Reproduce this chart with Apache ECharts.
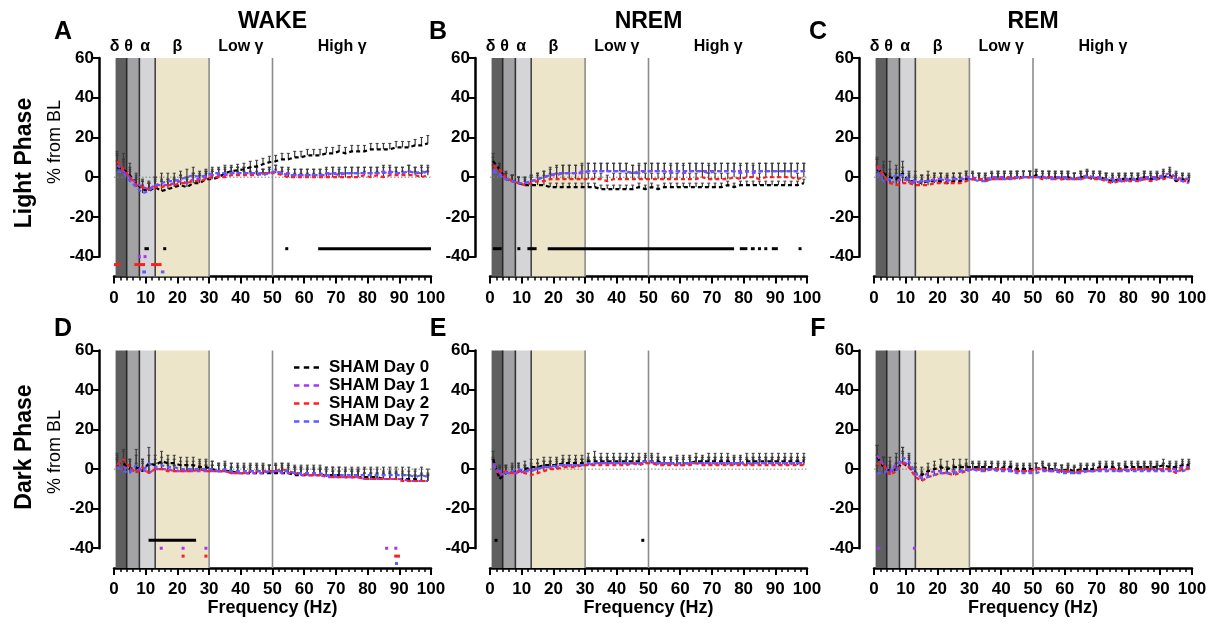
<!DOCTYPE html>
<html><head><meta charset="utf-8">
<script src="https://cdn.jsdelivr.net/npm/echarts@6/dist/echarts.min.js"></script>
<style>html,body{margin:0;padding:0;background:#fff}#c{width:1215px;height:626px}</style>
</head><body><div id="c"></div>
<script>
// ---------- categories / labels ----------
const freqs = [1,3,5,7,9,11,13,15,17,19,21,23,25,27,29,31,33,35,37,39,41,43,45,47,49,51,53,55,57,59,61,63,65,67,69,71,73,75,77,79,81,83,85,87,89,91,93,95,97,99];
const seriesNames = ['SHAM Day 0','SHAM Day 1','SHAM Day 2','SHAM Day 7'];
const stateTitles = ['WAKE','NREM','REM'];
const phaseLabels = ['Light Phase','Dark Phase'];
const yAxisTitle = '% from BL';
const xAxisTitle = 'Frequency (Hz)';
const panelLetters = ['A','B','C','D','E','F'];
const bandLabels = [['δ',0.2],['θ',4.6],['α',9.8],['β',20],['Low γ',40],['High γ',72]];
const bandRanges = [[0.5,4],[4,8],[8,13],[13,30]];
const bandDividers = [4,8,13,30,50];
const sigRows = [-36,-40,-44,-47.7];

// ---------- A: WAKE light ----------
const aDay0 = [5,4,1,-3,-6,-7,-5,-7,-6,-5,-4,-5,-3,-3,-1,-1,0,2,3,3.5,4,5,5.5,6.5,7.5,8,9,9,10,10,11,11,11,12,12,13,12,13,13,13,14,14,14,14,15,15,15,16,16,17];
const aDay1 = [6,3,0,-3,-5,-6,-4,-4,-4,-3,-2,-3,-1,-1,0,1,1,1,2,2,2,2,2,2,2,3,2,2,1,1,1,1,1,1,2,1,2,2,2,2,2,2,2,3,2,2,3,2,2,3];
const aDay2 = [8,4,0,-4,-5,-6,-5,-5,-4,-4,-3,-3,-2,-2,-1,0,0,0,1,1,1,1,1,2,2,2,1,0,0,0,0,0,0,0,0,0,0,0,0,1,0,1,0,1,1,1,1,1,0,1];
const aDay7 = [3,2,-2,-5,-8,-7,-4,-3,-2,-2,-1,0,1,0,1,2,2,2,2,2,2,2,2,1,2,3,2,1,1,1,1,1,1,2,2,2,2,2,2,2,2,2,3,2,2,2,3,2,3,2];
const aErr0 = [7,8,6,5,4,4,4,5,4,4,5,4,5,4,4,4,4,4,3,3,3,3,3,3,3,3,3,3,3,3,3,3,3,3,3,3,3,3,3,3,3,3,3,3,3,3,3,3,4,4];
const aErr1 = [5,6,5,4,4,4,4,3,3,3,3,3,3,3,3,3,3,3,3,3,3,3,3,2,3,3,3,3,3,3,3,3,3,3,3,3,3,3,3,3,3,3,3,3,3,3,3,3,3,3];
const aErr2 = [5,5,4,4,3,3,3,3,3,3,3,3,3,3,3,3,2,2,2,2,2,2,2,2,2,2,2,2,2,2,2,2,2,2,2,2,2,2,2,2,2,2,2,2,2,2,2,2,2,2];
const aErr7 = [5,6,5,4,4,4,4,5,4,4,4,4,4,3,3,3,3,3,3,3,3,3,3,3,3,3,3,3,3,3,3,3,3,3,3,3,3,3,3,3,3,3,3,3,3,3,3,3,3,3];
const aSig0 = [[9.6,11],[16,16],[54.5,54.5],[64.4,100]];
const aSig1 = [[8,8],[9.8,9.8]];
const aSig2 = [[0,2],[6.4,9.8],[11.7,15]];
const aSig7 = [[8.9,10.1],[14.8,15.9]];

// ---------- B: NREM light ----------
const bDay0 = [8,4,-1,-2,-3,-4,-4,-4,-4,-5,-5,-5,-5,-5,-5,-5,-5,-6,-6,-6,-6,-6,-6,-5,-6,-5,-6,-5,-5,-5,-5,-5,-5,-5,-5,-5,-5,-4,-5,-4,-4,-4,-4,-4,-4,-4,-4,-4,-4,-3];
const bDay1 = [4,2,-1,-2,-3,-3,-2,-1,0,1,1,2,2,2,2,3,3,3,3,3,3,3,2,3,3,3,3,3,3,3,2,3,3,3,3,3,3,3,3,3,3,2,3,3,3,3,3,3,3,3];
const bDay2 = [6,4,0,-2,-3,-4,-3,-2,-2,-1,-1,-1,-1,-1,-1,-1,-1,-1,-2,-1,-1,-1,-1,-1,-1,-1,-1,-1,-1,-1,-1,-1,-1,0,-1,-1,-1,-1,0,-1,0,0,-1,0,0,0,0,0,-1,0];
const bDay7 = [3,1,-1,-2,-3,-3,-2,-1,0,1,2,2,2,2,3,3,3,3,3,3,3,3,2,2,3,3,3,3,2,3,3,3,3,3,2,3,3,3,3,2,3,3,3,3,3,3,3,3,3,3];
const bErr0 = [4,3,3,3,3,2,2,2,2,2,2,2,2,2,2,2,2,2,2,2,2,2,2,2,2,2,2,2,2,2,2,2,2,2,2,2,2,2,2,2,2,2,2,2,2,2,2,2,2,2];
const bErr1 = [4,4,3,3,3,3,3,3,3,3,4,4,4,4,4,4,4,4,4,4,4,4,4,4,4,4,4,4,4,4,4,4,4,4,4,4,4,4,4,4,4,4,4,4,4,4,4,4,4,4];
const bErr2 = [4,3,3,3,3,3,3,3,3,3,3,3,3,3,3,3,3,3,3,3,3,3,3,3,3,3,3,3,3,3,3,3,3,3,3,3,3,3,3,3,3,3,3,3,3,3,3,3,3,3];
const bErr7 = [3,3,3,3,3,3,3,3,3,4,4,4,4,4,4,4,4,4,4,4,4,4,4,4,4,4,4,4,4,4,4,4,4,4,4,4,4,4,4,4,4,4,4,4,4,4,4,4,4,4];
const bSig0 = [[0.9,3.7],[9.1,9.1],[11.8,14.7],[18.2,77],[78.8,81.2],[82.3,83.5],[85,85],[87,87],[88.9,90.8],[97.8,97.8]];
const bSig1 = [], bSig2 = [], bSig7 = [];

// ---------- C: REM light ----------
const cDay0 = [4,2,0,-1,2,-2,-2,-3,-2,-2,-2,-3,-2,-2,-1,-1,-1,-1,-1,0,0,-1,0,0,0,1,0,0,0,-1,0,-1,0,0,-1,0,-1,-2,-1,-1,-1,-1,0,-1,-1,0,1,-2,-1,-2];
const cDay1 = [5,1,-3,-2,-1,-2,-3,-2,-2,-1,-1,-1,-1,-1,0,0,-1,-1,0,0,0,0,0,0,0,0,0,0,0,0,0,-1,0,1,0,0,-1,-1,-1,-1,-1,-1,0,0,0,1,2,0,-1,-1];
const cDay2 = [6,1,-3,-4,-3,-3,-4,-4,-4,-3,-3,-3,-3,-3,-2,-1,-1,-2,-1,-1,-1,0,-1,0,0,0,-1,0,-1,-1,-1,-1,-1,0,-1,-1,-2,-3,-2,-2,-2,-2,-1,-2,-1,-1,0,-1,-2,-2];
const cDay7 = [2,-2,-1,1,1,-1,-2,-2,-2,-2,-1,-2,-1,-1,-1,-1,-2,-2,-1,-1,-1,-1,0,0,0,0,0,-1,-1,0,-1,-1,-1,0,0,-1,-1,-2,-2,-2,-1,-2,-1,-1,-1,0,0,-1,-2,-3];
const cErr0 = [5,6,8,5,6,4,5,4,5,4,4,4,4,4,4,3,3,3,3,3,3,3,3,3,3,3,3,3,3,3,3,3,3,3,3,3,3,3,3,3,3,3,3,3,3,3,3,3,3,3];
const cErr1 = [4,5,5,4,4,3,3,3,3,3,3,3,3,3,3,3,3,3,3,3,3,3,3,3,3,3,3,3,3,3,3,3,3,3,3,3,3,3,3,3,3,3,3,3,3,3,3,3,3,3];
const cErr2 = [4,4,4,4,3,3,3,3,3,3,3,3,3,3,3,3,3,3,3,3,3,3,3,3,3,3,3,3,3,3,3,3,3,3,3,3,3,3,3,3,3,3,3,3,3,3,3,3,3,3];
const cErr7 = [4,4,5,5,4,4,3,3,3,3,3,3,3,3,3,3,3,3,3,3,3,3,3,3,3,3,3,3,3,3,3,3,3,3,3,3,3,3,3,3,3,3,3,3,3,3,3,3,3,3];
const cSig0 = [], cSig1 = [], cSig2 = [], cSig7 = [];

// ---------- D: WAKE dark ----------
const dDay0 = [2,3,0,1,-1,3,2,4,3,3,2,2,2,1,1,0,-1,-1,-1,-2,-2,-2,-2,-2,-2,-2,-2,-2,-3,-3,-3,-3,-3,-3,-3,-3,-4,-4,-4,-4,-4,-4,-5,-5,-5,-5,-5,-5,-6,-6];
const dDay1 = [3,1,0,-1,0,-2,0,0,0,-1,-1,-1,-1,-1,-1,-1,-1,-1,-2,-2,-2,-2,-2,-2,-1,-1,-2,-2,-2,-3,-3,-3,-3,-4,-4,-4,-4,-4,-4,-5,-5,-5,-5,-5,-5,-5,-6,-6,-6,-6];
const dDay2 = [2,5,1,-2,1,-2,0,0,-1,-1,-1,-1,-1,0,-1,-1,-1,-1,-2,-2,-2,-1,-1,-1,-1,-1,0,-1,-2,-2,-3,-3,-3,-3,-4,-4,-4,-4,-4,-5,-5,-5,-5,-5,-5,-6,-6,-6,-6,-6];
const dDay7 = [1,-1,-2,2,-1,3,1,2,1,1,0,0,0,0,0,0,-1,0,-1,-1,-1,-1,-1,-1,-2,-1,-1,-1,-2,-2,-2,-2,-2,-3,-3,-3,-3,-3,-3,-3,-3,-3,-3,-3,-3,-3,-3,-4,-3,-4];
const dErr0 = [6,7,5,9,6,8,5,5,4,4,4,4,4,4,4,4,4,4,4,4,4,4,4,4,4,4,4,4,4,4,4,4,4,4,4,4,4,4,4,4,4,4,4,4,4,4,4,4,4,4];
const dErr1 = [4,4,4,4,4,4,3,3,3,3,3,3,3,3,3,3,3,3,3,3,3,3,3,3,3,3,3,3,3,3,3,3,3,3,3,3,3,3,3,3,3,3,3,3,3,3,3,3,3,3];
const dErr2 = [4,4,4,4,4,4,3,3,3,3,3,3,3,3,3,3,3,3,3,3,3,3,3,3,3,3,3,3,3,3,3,3,3,3,3,3,3,3,3,3,3,3,3,3,3,3,3,3,3,3];
const dErr7 = [4,5,4,5,4,4,4,4,4,4,4,4,4,4,4,4,4,4,4,4,4,4,4,4,4,4,4,4,4,4,4,4,4,4,4,4,4,4,4,4,4,4,4,4,4,4,4,4,4,4];
const dSig0 = [[10.9,25.9]];
const dSig1 = [[14.9,14.9],[21.8,21.8],[29,29],[86,86],[88.9,88.9]];
const dSig2 = [[21.8,21.8],[29,29],[88.4,90.2]];
const dSig7 = [[89.1,89.1]];

// ---------- E: NREM dark ----------
const eDay0 = [5,-5,-2,-1,-1,0,1,1,2,2,2,3,3,3,3,4,4,4,4,4,4,4,4,4,4,4,4,3,3,3,3,3,4,4,4,4,4,4,3,3,4,4,4,4,4,4,4,4,4,4];
const eDay1 = [3,-3,-2,-2,-2,-1,0,0,1,1,1,2,2,2,2,2,3,3,3,3,3,3,3,3,3,3,3,3,3,2,2,3,3,3,3,3,3,3,3,3,2,3,3,3,3,3,3,3,3,3];
const eDay2 = [2,-2,-1,-2,-1,-2,-3,-2,-1,0,0,1,1,1,2,2,2,2,2,2,2,2,3,2,3,3,2,2,2,2,2,2,3,2,2,2,2,2,2,2,2,2,2,2,2,2,2,2,2,2];
const eDay7 = [2,-1,-2,-1,0,-1,-1,0,1,1,2,2,2,2,2,3,3,3,3,3,3,3,3,3,4,4,3,3,3,3,3,3,3,3,3,3,3,3,3,3,3,3,3,3,3,3,3,3,3,3];
const eErr0 = [4,5,4,4,4,4,4,4,4,4,4,4,4,4,4,4,5,4,4,4,4,4,4,4,4,4,4,3,3,4,4,4,4,3,4,4,4,4,4,4,4,4,4,4,4,4,4,4,4,4];
const eErr1 = [3,4,3,3,3,3,3,3,3,3,3,3,3,3,3,3,3,3,3,3,3,3,3,3,3,3,3,3,3,3,3,3,3,3,3,3,3,3,3,3,3,3,3,3,3,3,3,3,3,3];
const eErr2 = [3,3,3,3,3,3,3,3,3,3,3,3,3,3,3,3,3,3,3,3,3,3,3,3,3,3,3,3,3,3,3,3,3,3,3,3,3,3,3,3,3,3,3,3,3,3,3,3,3,3];
const eErr7 = [3,3,3,3,3,3,3,3,3,3,3,3,3,3,3,3,3,3,3,3,3,3,3,3,3,3,3,3,3,3,3,3,3,3,3,3,3,3,3,3,3,3,3,3,3,3,3,3,3,3];
const eSig0 = [[1.9,1.9],[48.2,48.2]];
const eSig1 = [], eSig2 = [], eSig7 = [];

// ---------- F: REM dark ----------
const fDay0 = [6,1,-1,0,3,1,-2,-3,-1,0,1,0,1,1,1,1,1,1,1,0,1,1,0,0,0,0,1,0,0,-1,0,-1,0,0,0,1,1,1,0,1,1,1,1,1,1,2,1,1,2,2];
const fDay1 = [7,2,-2,3,4,2,-3,-4,-2,-1,-1,-2,-1,-1,0,0,0,0,0,0,0,0,-1,-1,-1,0,0,-1,0,-1,-1,-2,-1,-1,-1,0,0,0,-1,0,0,0,0,0,0,0,0,0,1,1];
const fDay2 = [3,2,-3,-1,3,1,-4,-6,-4,-3,-2,-2,-3,-2,-1,0,0,-1,0,0,0,-1,-1,-1,-1,0,0,-1,-1,-1,-1,-2,-1,-1,-1,0,-1,0,0,-1,0,0,0,0,-1,0,0,-2,0,0];
const fDay7 = [-2,-2,0,-1,6,4,-2,-5,-4,-3,-2,-2,-2,-1,-1,0,-1,-1,0,-1,-1,-1,-2,-2,-2,-2,-1,-1,-1,-2,-2,-2,-2,-1,-1,-1,-1,-1,-1,-1,-1,-1,-1,-1,-1,-1,-1,-1,-1,0];
const fErr0 = [6,5,7,6,8,6,5,4,4,4,4,4,4,4,4,3,3,3,3,4,3,3,3,3,3,3,3,3,3,3,3,3,3,3,3,3,3,3,3,3,3,3,3,3,3,3,3,3,3,3];
const fErr1 = [5,4,4,5,5,4,4,3,3,3,3,3,3,3,3,3,3,3,3,3,3,3,3,3,3,3,3,3,3,3,3,3,3,3,3,3,3,3,3,3,3,3,3,3,3,3,3,3,3,3];
const fErr2 = [4,4,4,4,5,4,3,3,3,3,3,3,3,3,3,3,3,3,3,3,3,3,3,3,3,3,3,3,3,3,3,3,3,3,3,3,3,3,3,3,3,3,3,3,3,3,3,3,3,3];
const fErr7 = [4,4,4,4,5,4,3,3,3,3,3,3,3,3,3,3,3,3,3,3,3,3,3,3,3,3,3,3,3,3,3,3,3,3,3,3,3,3,3,3,3,3,3,3,3,3,3,3,3,3];
const fSig0 = [], fSig1 = [[1,2],[12.7,12.7]], fSig2 = [], fSig7 = [];

// ---------- assembly ----------
const panels = [
  {vals:[aDay0,aDay1,aDay2,aDay7], errs:[aErr0,aErr1,aErr2,aErr7], sig:[aSig0,aSig1,aSig2,aSig7]},
  {vals:[bDay0,bDay1,bDay2,bDay7], errs:[bErr0,bErr1,bErr2,bErr7], sig:[bSig0,bSig1,bSig2,bSig7]},
  {vals:[cDay0,cDay1,cDay2,cDay7], errs:[cErr0,cErr1,cErr2,cErr7], sig:[cSig0,cSig1,cSig2,cSig7]},
  {vals:[dDay0,dDay1,dDay2,dDay7], errs:[dErr0,dErr1,dErr2,dErr7], sig:[dSig0,dSig1,dSig2,dSig7]},
  {vals:[eDay0,eDay1,eDay2,eDay7], errs:[eErr0,eErr1,eErr2,eErr7], sig:[eSig0,eSig1,eSig2,eSig7]},
  {vals:[fDay0,fDay1,fDay2,fDay7], errs:[fErr0,fErr1,fErr2,fErr7], sig:[fSig0,fSig1,fSig2,fSig7]}
];

const FONT = '"Liberation Sans", Arial, sans-serif';
const colors = ['#000000','#a437ee','#ff1e1e','#5b5bff'];
const errColor = '#3a3a3a';
const bandColors = ['#5f5f5f','#a3a3a6','#d5d5d7','#ede5c9'];
const dividerColors = ['#2a2a2a','#333333','#454545','#8c8c8c','#8c8c8c'];
const colLeft = [114, 490, 874], colWidth = [317, 317, 318];
const rowTop = [58, 350.5], rowHeight = [218.5, 217.5];
const Y_MIN = -50, Y_MAX = 60;

const grid = [], xAxis = [], yAxis = [], series = [];
const labelStyle = {color:'#000', fontWeight:'bold', fontSize:17, fontFamily:FONT};

panels.forEach((pn, p) => {
  const r = Math.floor(p / 3), c = p % 3;
  const L = colLeft[c], T = rowTop[r], W = colWidth[c], H = rowHeight[r];
  const gi = 2 * p;
  grid.push({left:L, top:T, width:W, height:H});
  grid.push({left:L - 15, top:T, width:1, height:H * (Y_MAX - (-40)) / (Y_MAX - Y_MIN)});
  xAxis.push({
    gridIndex:gi, type:'value', min:0, max:100, interval:10,
    axisLine:{show:true, onZero:false, lineStyle:{color:'#000', width:2.5}},
    axisTick:{show:true, length:7, lineStyle:{color:'#000', width:2}},
    minorTick:{show:true, splitNumber:5, length:4, lineStyle:{color:'#000', width:1.5}},
    splitLine:{show:false},
    axisLabel:Object.assign({margin:13}, labelStyle),
    name: r === 1 ? xAxisTitle : '', nameLocation:'middle', nameGap:29,
    nameTextStyle:{color:'#000', fontWeight:'bold', fontSize:18, fontFamily:FONT}
  });
  xAxis.push({gridIndex:gi + 1, show:false, min:0, max:1});
  yAxis.push({gridIndex:gi, show:false, min:Y_MIN, max:Y_MAX});
  yAxis.push({
    gridIndex:gi + 1, type:'value', min:-40, max:60, interval:20,
    axisLine:{show:true, onZero:false, lineStyle:{color:'#000', width:2.5}},
    axisTick:{show:true, length:6, lineStyle:{color:'#000', width:2}},
    splitLine:{show:false},
    axisLabel:Object.assign({margin:5}, labelStyle)
  });
  const ax = {xAxisIndex:gi, yAxisIndex:gi};
  // frequency bands
  series.push(Object.assign({
    type:'custom', z:1, silent:true, clip:false,
    data: bandRanges.map((b, i) => [b[0], b[1], i]),
    renderItem:(params, api) => {
      const a = api.coord([api.value(0), Y_MAX]);
      const b = api.coord([api.value(1), Y_MIN]);
      return {type:'rect', shape:{x:a[0], y:a[1], width:b[0]-a[0], height:b[1]-a[1]},
              style:{fill:bandColors[api.value(2)]}};
    }
  }, ax));
  // band dividers
  series.push(Object.assign({
    type:'custom', z:2, silent:true, clip:false,
    data: bandDividers.map((d, i) => [d, 0, i]),
    renderItem:(params, api) => {
      const a = api.coord([api.value(0), Y_MAX]);
      const b = api.coord([api.value(0), Y_MIN]);
      return {type:'line', shape:{x1:a[0], y1:a[1], x2:b[0], y2:b[1]},
              style:{stroke:dividerColors[api.value(2)], lineWidth:1.6}};
    }
  }, ax));
  // zero reference line
  series.push(Object.assign({
    type:'custom', z:2, silent:true, clip:false,
    data: [[0, 0, 100]],
    renderItem:(params, api) => {
      const a = api.coord([api.value(0), api.value(1)]);
      const b = api.coord([api.value(2), api.value(1)]);
      return {type:'line', shape:{x1:a[0], y1:a[1], x2:b[0], y2:b[1]},
              style:{stroke:'#808080', lineWidth:1, lineDash:[1.5,2]}};
    }
  }, ax));
  // error bars (above)
  pn.vals.forEach((vals, s) => {
    const errs = pn.errs[s];
    series.push(Object.assign({
      type:'custom', z:3, silent:true, clip:false,
      data: freqs.map((f, i) => [f, vals[i], errs[i]]),
      renderItem:(params, api) => {
        const x = api.value(0), y = api.value(1), e = api.value(2);
        const a = api.coord([x, y]), b = api.coord([x, y + e]);
        return {type:'group', children:[
          {type:'line', shape:{x1:a[0], y1:a[1], x2:b[0], y2:b[1]}, style:{stroke:errColor, lineWidth:1.2}},
          {type:'line', shape:{x1:b[0]-1.5, y1:b[1], x2:b[0]+1.5, y2:b[1]}, style:{stroke:errColor, lineWidth:1}}
        ]};
      }
    }, ax));
  });
  // mean lines
  pn.vals.forEach((vals, s) => {
    series.push(Object.assign({
      type:'line', name:seriesNames[s], z:5, silent:true,
      data: freqs.map((f, i) => [f, vals[i]]),
      symbol:'none', showSymbol:false,
      lineStyle:{color:colors[s], width:2.2, type:[4,3]},
      itemStyle:{color:colors[s]}
    }, ax));
  });
  // significance markers
  pn.sig.forEach((segs, s) => {
    if (!segs.length) return;
    series.push(Object.assign({
      type:'custom', z:5, silent:true, clip:false,
      data: segs.map(sg => [sg[0], sg[1], sigRows[s]]),
      renderItem:(params, api) => {
        const a = api.coord([api.value(0), api.value(2)]);
        const b = api.coord([api.value(1), api.value(2)]);
        let w = b[0] - a[0], x0 = a[0];
        if (w < 3) { x0 = (a[0] + b[0]) / 2 - 1.5; w = 3; }
        return {type:'rect', shape:{x:x0, y:a[1]-1.5, width:w, height:3}, style:{fill:colors[s]}};
      }
    }, ax));
  });
});

const chart = echarts.init(document.getElementById('c'), null, {renderer:'canvas', width:1215, height:626});
chart.setOption({
  animation:false,
  backgroundColor:'#fff',
  grid, xAxis, yAxis, series,
  legend:{
    data:seriesNames.map(n => ({name:n, icon:'path://M0,0h5v2.2h-5z M9,0h5v2.2h-5z M18,0h5v2.2h-5z'})),
    orient:'vertical', left:289, top:354,
    itemWidth:25, itemHeight:2.4, itemGap:1, selectedMode:false,
    textStyle:{color:'#000', fontWeight:'bold', fontSize:17, fontFamily:FONT, padding:[0,0,0,5]}
  }
});

// ---------- text annotations ----------
function txt(text, x, y, font, rot) {
  return {type:'text', x, y, rotation:rot || 0, silent:true,
          style:{text, fill:'#000', font, align:'center', verticalAlign:'middle'}};
}
const graphic = [];
const titleFont = 'bold 23px ' + FONT;
for (let c = 0; c < 3; c++) {
  const gi = 2 * c;
  const cx = chart.convertToPixel({xAxisIndex:gi}, 50);
  graphic.push(txt(stateTitles[c], cx, 22, titleFont));
  bandLabels.forEach(bl => {
    const bx = chart.convertToPixel({xAxisIndex:gi}, bl[1]);
    graphic.push(txt(bl[0], bx, 47, 'bold 16px ' + FONT));
  });
}
const letterX = [63, 438, 818], letterY = [32, 329];
panelLetters.forEach((l, p) => {
  graphic.push(txt(l, letterX[p % 3], letterY[Math.floor(p / 3)], 'bold 25px ' + FONT));
});
graphic.push(txt(phaseLabels[0], 25, 163, 'bold 23px ' + FONT, Math.PI / 2));
graphic.push(txt(yAxisTitle, 55, 142, '18px ' + FONT, Math.PI / 2));
graphic.push(txt(phaseLabels[1], 25, 447, 'bold 23px ' + FONT, Math.PI / 2));
graphic.push(txt(yAxisTitle, 55, 452, '18px ' + FONT, Math.PI / 2));
chart.setOption({graphic});
</script>
</body></html>
